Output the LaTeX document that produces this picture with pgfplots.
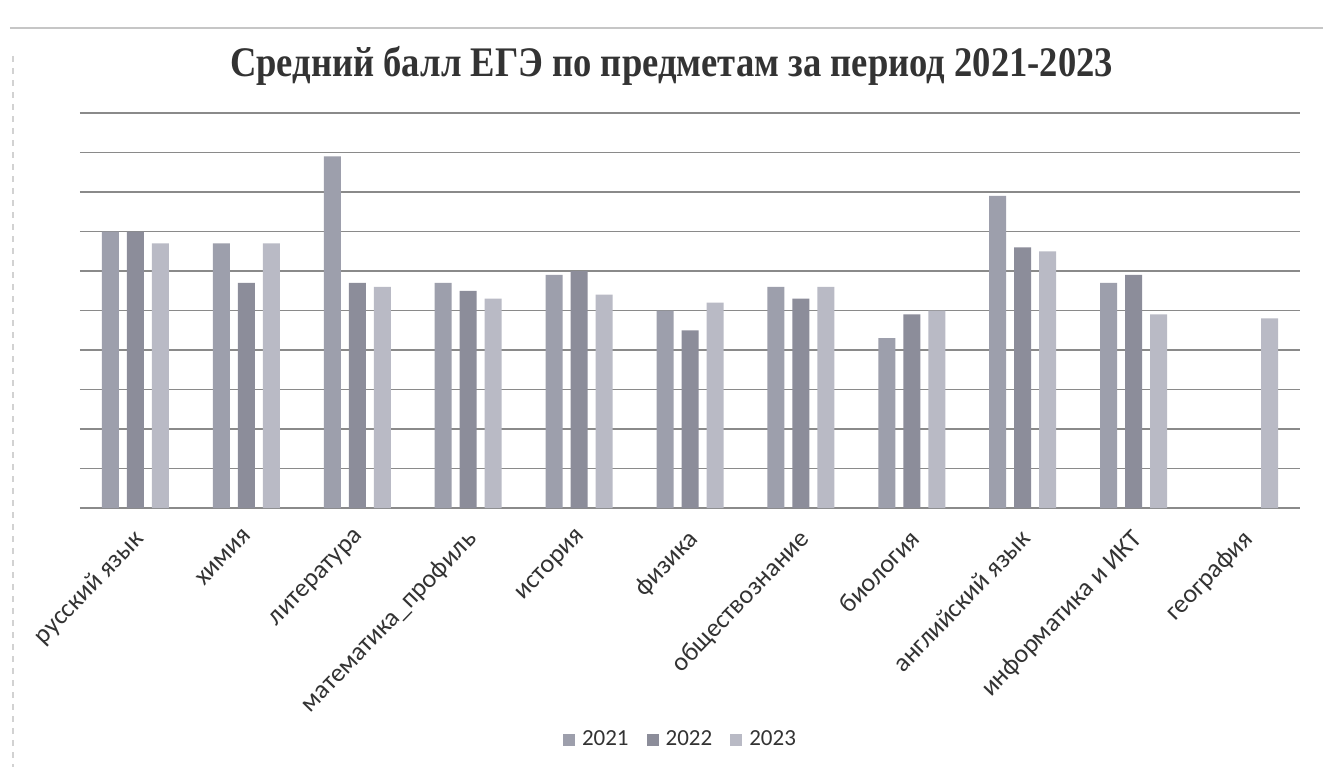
\documentclass[border=0pt]{standalone}
\usepackage{pgfplots}
\pgfplotsset{compat=1.18}
\usepackage{fontspec}
\setmainfont{Carlito}
\newfontfamily\titlefont{Liberation Serif}
\definecolor{cA}{HTML}{9D9FAC}
\definecolor{cB}{HTML}{8C8D9A}
\definecolor{cC}{HTML}{B9BAC5}
\definecolor{txt}{HTML}{333333}
\definecolor{grd}{HTML}{8A8A8A}
\begin{document}
\begin{tikzpicture}
\useasboundingbox[fill=white] (-40pt,-129.5pt) rectangle (621.5pt,254pt);
\draw[gray!45, line width=0.6pt] (-35pt,240pt) -- (621.5pt,240pt);
\draw[gray!35, line width=0.5pt, dashed] (-33.5pt,226pt) -- (-33.5pt,-129.5pt);
\begin{axis}[
  at={(0,0)}, anchor=south west,
  scale only axis, width=610pt, height=197.5pt,
  ybar=4pt, bar width=8.5pt,
  xmin=-0.5, xmax=10.5, ymin=0, ymax=100,
  ytick={0,10,...,100}, yticklabels={},
  ymajorgrids, grid style={grd, line width=0.55pt},
  major tick length=0pt,
  axis line style={draw=none},
  xtick={0,...,10},
  xticklabels={русский язык,химия,литература,математика\_профиль,история,физика,обществознание,биология,английский язык,информатика и ИКТ,география},
  xticklabel style={rotate=46, anchor=north east, font=\fontsize{13}{15}\selectfont, text=txt, inner sep=1pt, xshift=-7.1pt, yshift=-4.6pt},
  title={\scalebox{1}[1.15]{\titlefont\bfseries Средний балл ЕГЭ по предметам за период 2021-2023}},
  title style={at={(0.485,1)}, anchor=center, yshift=17.5pt, font=\fontsize{18.3}{20}\selectfont, text=txt},
  legend style={at={(0.493,0)}, anchor=center, yshift=-116pt, draw=none, fill=none,
    legend columns=-1, font=\fontsize{11.5}{13}\selectfont, text=txt,
    /tikz/every even column/.append style={column sep=7pt},
    /tikz/every odd column/.append style={column sep=1.5pt}},
  legend image code/.code={\fill[#1] (0pt,-3pt) rectangle (6pt,3pt);},
]
\addplot[fill=cA, draw=none] coordinates {(0,70) (1,67) (2,89) (3,57) (4,59) (5,50) (6,56) (7,43) (8,79) (9,57)};
\addplot[fill=cB, draw=none] coordinates {(0,70) (1,57) (2,57) (3,55) (4,60) (5,45) (6,53) (7,49) (8,66) (9,59)};
\addplot[fill=cC, draw=none] coordinates {(0,67) (1,67) (2,56) (3,53) (4,54) (5,52) (6,56) (7,50) (8,65) (9,49) (10,48)};
\legend{2021,2022,2023}
\end{axis}
\end{tikzpicture}
\end{document}
